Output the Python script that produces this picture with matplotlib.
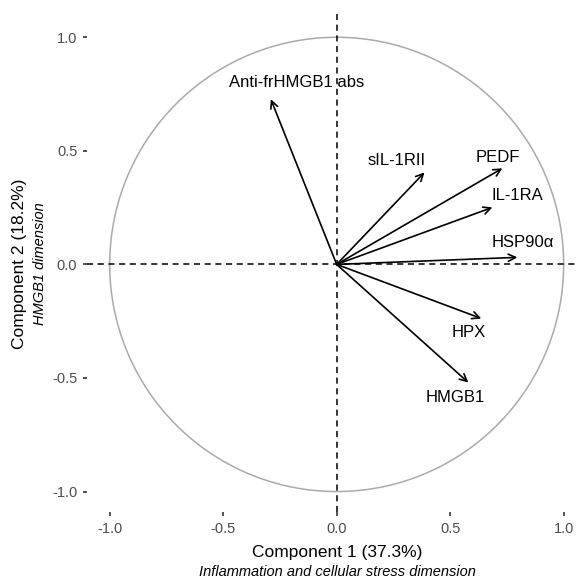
import matplotlib
matplotlib.use("Agg")
import matplotlib.pyplot as plt
import numpy as np

plt.rcParams['font.family'] = ['Liberation Sans', 'DejaVu Sans']

# loadings
variables = ["Anti-frHMGB1 abs", "sIL-1RII", "PEDF", "IL-1RA", "HSP90\u03b1", "HPX", "HMGB1"]
comp1 = [-0.29, 0.387, 0.73, 0.686, 0.796, 0.637, 0.58]
comp2 = [0.727, 0.405, 0.423, 0.251, 0.031, -0.238, -0.52]
# label anchor points
label_x = [-0.176, 0.264, 0.708, 0.796, 0.818, 0.58, 0.523]
label_y = [0.80, 0.458, 0.47, 0.304, 0.097, -0.30, -0.586]

ticks = [-1.0, -0.5, 0.0, 0.5, 1.0]
tick_labels = ["-1.0", "-0.5", "0.0", "0.5", "1.0"]

fig = plt.figure(figsize=(5.84, 5.8), dpi=100)
ax = fig.add_axes([87/584, 68/580, 488/584, 502/580])

theta = np.linspace(0, 2*np.pi, 400)
ax.plot(np.cos(theta), np.sin(theta), color="#aaaaaa", lw=1.1)

ax.axhline(0, color="black", lw=1.1, ls=(0, (4, 3)))
ax.axvline(0, color="black", lw=1.1, ls=(0, (4, 3)))

for i in range(len(variables)):
    ax.annotate("", xy=(comp1[i], comp2[i]), xytext=(0, 0),
                arrowprops=dict(arrowstyle="->", color="black", lw=1.2,
                                mutation_scale=13, shrinkA=0, shrinkB=0))
    ax.text(label_x[i], label_y[i], variables[i], fontsize=12,
            ha="center", va="center", color="black")

ax.set_xlim(-1.10, 1.05)
ax.set_ylim(-1.09, 1.12)
ax.set_xticks(ticks)
ax.set_xticklabels(tick_labels)
ax.set_yticks(ticks)
ax.set_yticklabels(tick_labels)
ax.tick_params(colors="#333333", labelcolor="#4d4d4d", labelsize=10.5,
               length=3, width=1.2, pad=4)
for s in ax.spines.values():
    s.set_visible(False)

fig.text(337/584, 1 - 552/580, "Component 1 (37.3%)", ha="center", va="center",
         fontsize=12.5)
fig.text(337/584, 1 - 572/580, "Inflammation and cellular stress dimension",
         ha="center", va="center", fontsize=10.5, style="italic")
fig.text(20/584, 1 - 264/580, "Component 2 (18.2%)", ha="center", va="center",
         fontsize=12.5, rotation=90)
fig.text(40/584, 1 - 264/580, "HMGB1 dimension", ha="center", va="center",
         fontsize=10.5, style="italic", rotation=90)

fig.savefig("out.png", dpi=100)
